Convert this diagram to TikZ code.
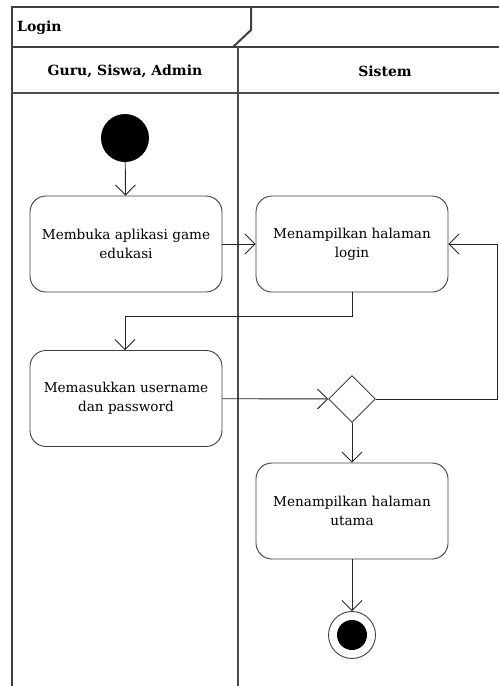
\documentclass[tikz,border=0pt]{standalone}
\usepackage{fontspec}
\setmainfont{DejaVu Serif}
\usetikzlibrary{arrows.meta,shapes.geometric}
\begin{document}
\begin{tikzpicture}[x=1pt,y=-1pt,
  frame/.style={draw=black!75,line width=2pt},
  lane/.style={draw=black!70,line width=1.6pt},
  action/.style={draw=black!75,line width=0.9pt,rounded corners=16pt,minimum width=192pt,minimum height=96pt,align=center,font=\fontsize{13.6}{19}\selectfont,inner sep=0pt},
  flow/.style={draw=black!85,line width=0.9pt,-{Straight Barb[length=10pt,width=20pt,line width=0.9pt]}},
  head/.style={font=\bfseries\fontsize{14}{16}\selectfont}]
\useasboundingbox (0,0) rectangle (499,686);
\fill[white] (0,0) rectangle (499,686);
% outer frame and title tab
\draw[frame] (499,7) -- (12,7) -- (12,686);
\draw[frame] (12,47) -- (499,47);
\draw[frame] (251,7) -- (251,30) -- (233,47);
\draw[lane] (12,93) -- (499,93);
\draw[lane] (238,47) -- (238,686);
\node[head,anchor=west,inner sep=0pt] (title) at (17,28) {Login};
\node[head] (laneA) at (125,71) {Guru, Siswa, Admin};
\node[head] (laneB) at (385,71) {Sistem};
% activity nodes
\node[circle,fill=black,minimum size=48pt,inner sep=0pt] (start) at (125,138) {};
\node[action] (open) at (126,244) {Membuka aplikasi game\\edukasi};
\node[action] (showlogin) at (352,244) {Menampilkan halaman\\login};
\node[action] (input) at (126,398.5) {Memasukkan username\\dan password};
\node[diamond,draw=black!75,line width=0.9pt,minimum width=47pt,minimum height=47pt,inner sep=0pt] (check) at (352,399) {};
\node[action] (showmain) at (352,511) {Menampilkan halaman\\utama};
\node[circle,draw=black!75,line width=0.9pt,minimum size=47pt,inner sep=0pt] (end) at (352,635) {};
\node[circle,fill=black,minimum size=30pt,inner sep=0pt] (endin) at (352,635) {};
\coordinate (loopc) at (497,399);
% control flows
\draw[flow] (start) -- (open);
\draw[flow] (open) -- (showlogin);
\draw[flow] (showlogin.south) |- (125,316) -- (input.north -| 125,0);
\draw[flow] (input) -- (check);
\draw[flow] (check.east) -- (loopc) |- (showlogin.east);
\draw[flow] (check) -- (showmain);
\draw[flow] (showmain) -- (end);
\end{tikzpicture}
\end{document}
